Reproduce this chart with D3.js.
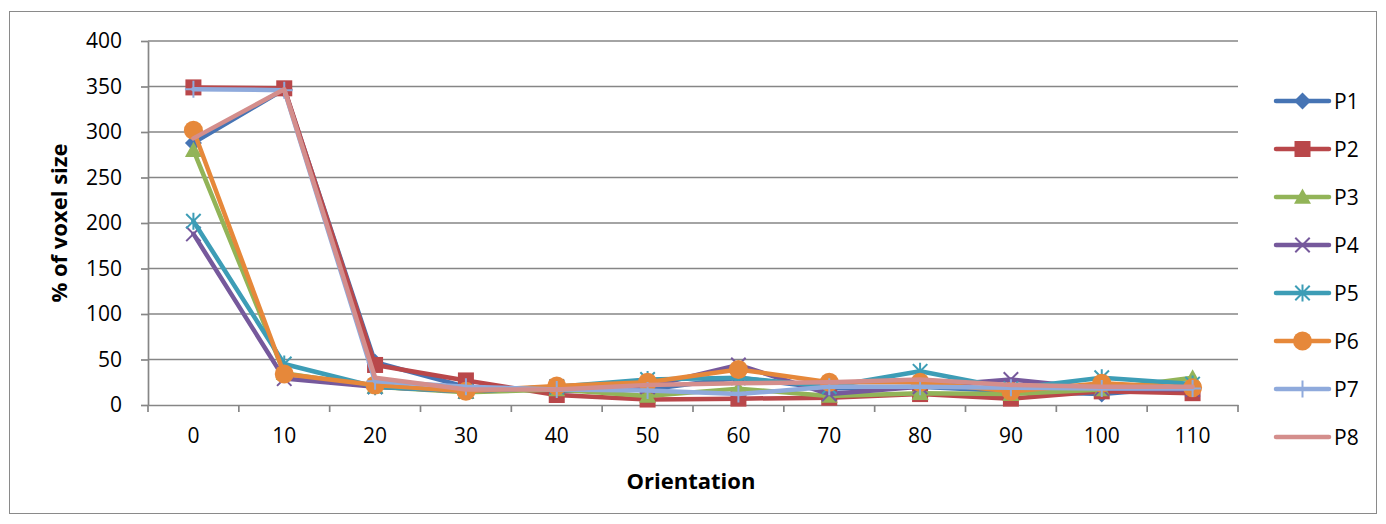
<!DOCTYPE html>
<html>
<head>
<meta charset="utf-8">
<script src="https://cdn.jsdelivr.net/npm/d3@7"></script>
<style>
  html, body { margin: 0; padding: 0; background: #fff; }
  svg { display: block; font-family: "Open Sans", Lato, sans-serif; }
</style>
</head>
<body>
<svg id="chart" width="1386" height="524"></svg>
<script>
// Orientation categories and y-axis ticks
const categories = [0, 10, 20, 30, 40, 50, 60, 70, 80, 90, 100, 110];
const yTicks = [0, 50, 100, 150, 200, 250, 300, 350, 400];

// Series values (% of voxel size)
const P1 = [288, 347, 47, 20, 15, 17, 30, 18, 20, 15, 12, 20];
const P2 = [349, 348, 44, 27, 11, 6, 7, 8, 12, 7, 15, 13];
const P3 = [280, 35, 20, 14, 17, 10, 18, 10, 13, 12, 17, 30];
const P4 = [188, 29, 20, 15, 20, 20, 44, 12, 20, 28, 18, 17];
const P5 = [202, 45, 20, 15, 20, 28, 30, 20, 37, 18, 30, 23];
const P6 = [302, 34, 22, 15, 21, 25, 39, 25, 25, 15, 24, 19];
const P7 = [347, 346, 26, 20, 17, 16, 12, 20, 20, 19, 18, 18];
const P8 = [293, 347, 30, 17, 17, 22, 24, 25, 28, 22, 20, 20];

const seriesNames = ["P1", "P2", "P3", "P4", "P5", "P6", "P7", "P8"];
const seriesValues = [P1, P2, P3, P4, P5, P6, P7, P8];
const seriesColors = ["#4674B4", "#B9474A", "#92B458", "#76599C", "#3D9DB6", "#E6883A", "#8FAADC", "#D48E8C"];
const seriesMarkers = ["diamond", "square", "triangle", "x", "star", "circle", "plus", "none"];

const FONT = "'Open Sans', Lato, sans-serif";
const svg = d3.select("#chart");

// Chart area frame
svg.append("rect")
  .attr("x", 9.5).attr("y", 11.5)
  .attr("width", 1367).attr("height", 502)
  .attr("fill", "#fff").attr("stroke", "#8a8a8a").attr("stroke-width", 1);

const plot = { left: 148, right: 1238, top: 41, bottom: 405 };

const x = d3.scaleBand().domain(categories).range([plot.left, plot.right]).padding(0);
const y = d3.scaleLinear().domain([0, 400]).range([plot.bottom, plot.top]);
const cx = d => x(d) + x.bandwidth() / 2;

const axisColor = "#868686";

// Horizontal gridlines
svg.append("g")
  .selectAll("line")
  .data(yTicks.filter(t => t > 0))
  .join("line")
  .attr("x1", plot.left).attr("x2", plot.right)
  .attr("y1", d => y(d)).attr("y2", d => y(d))
  .attr("stroke", axisColor).attr("stroke-width", 1.7);

// Y axis
const yAxis = svg.append("g")
  .attr("transform", `translate(${plot.left},0)`)
  .call(d3.axisLeft(y).tickValues(yTicks).tickSize(7).tickSizeOuter(0).tickPadding(19));
yAxis.select(".domain").attr("stroke", axisColor).attr("stroke-width", 1.7);
yAxis.selectAll(".tick line").attr("stroke", axisColor).attr("stroke-width", 1.7);
yAxis.selectAll(".tick text")
  .attr("fill", "#000").attr("font-size", 21)
  .attr("font-family", FONT);

// X axis
const xAxis = svg.append("g")
  .attr("transform", `translate(0,${plot.bottom})`)
  .call(d3.axisBottom(x).tickSize(0).tickSizeOuter(0).tickPadding(23));
xAxis.select(".domain").attr("stroke", axisColor).attr("stroke-width", 1.7);
xAxis.selectAll(".tick text")
  .attr("fill", "#000").attr("font-size", 21)
  .attr("font-family", FONT);

// Tick marks at category boundaries
const boundaries = categories.map(c => x(c)).concat([plot.right]);
svg.append("g")
  .selectAll("line")
  .data(boundaries)
  .join("line")
  .attr("x1", d => d).attr("x2", d => d)
  .attr("y1", plot.bottom).attr("y2", plot.bottom + 7)
  .attr("stroke", axisColor).attr("stroke-width", 1.7);

// Axis titles
svg.append("text")
  .attr("transform", `translate(67,${(plot.top + plot.bottom) / 2}) rotate(-90)`)
  .attr("text-anchor", "middle")
  .attr("font-size", 22).attr("font-weight", "bold")
  .attr("font-family", FONT)
  .text("% of voxel size");

svg.append("text")
  .attr("x", (plot.left + plot.right) / 2 - 2).attr("y", 489)
  .attr("text-anchor", "middle")
  .attr("font-size", 22).attr("font-weight", "bold")
  .attr("font-family", FONT)
  .text("Orientation");

// Marker drawing
function drawMarker(g, type, color, px, py, s) {
  const h = s / 2;
  if (type === "diamond") {
    g.append("path")
      .attr("d", `M${px},${py - h}L${px + h},${py}L${px},${py + h}L${px - h},${py}Z`)
      .attr("fill", color);
  } else if (type === "square") {
    g.append("rect")
      .attr("x", px - h + 0.5).attr("y", py - h + 0.5)
      .attr("width", s - 1).attr("height", s - 1)
      .attr("fill", color);
  } else if (type === "triangle") {
    g.append("path")
      .attr("d", `M${px},${py - h}L${px + h},${py + h * 0.8}L${px - h},${py + h * 0.8}Z`)
      .attr("fill", color);
  } else if (type === "circle") {
    g.append("circle").attr("cx", px).attr("cy", py).attr("r", h + 1)
      .attr("fill", color);
  } else if (type === "x") {
    const k = h * 0.85;
    g.append("path")
      .attr("d", `M${px - k},${py - k}L${px + k},${py + k}M${px - k},${py + k}L${px + k},${py - k}`)
      .attr("stroke", color).attr("stroke-width", 2);
  } else if (type === "star") {
    const k = h * 0.85;
    g.append("path")
      .attr("d", `M${px - k},${py - k}L${px + k},${py + k}M${px - k},${py + k}L${px + k},${py - k}M${px},${py - h}L${px},${py + h}`)
      .attr("stroke", color).attr("stroke-width", 2);
  } else if (type === "plus") {
    g.append("path")
      .attr("d", `M${px},${py - h}L${px},${py + h}M${px - h},${py}L${px + h},${py}`)
      .attr("stroke", color).attr("stroke-width", 2);
  }
}

const line = d3.line()
  .x((d, i) => cx(categories[i]))
  .y(d => y(d));

const series = svg.append("g");
seriesValues.forEach((vals, si) => {
  const g = series.append("g");
  g.append("path")
    .attr("d", line(vals))
    .attr("fill", "none")
    .attr("stroke", seriesColors[si])
    .attr("stroke-width", 4.5)
    .attr("stroke-linejoin", "round")
    .attr("stroke-linecap", "round");
  vals.forEach((v, i) => drawMarker(g, seriesMarkers[si], seriesColors[si], cx(categories[i]), y(v), 17));
});

// Legend
const legend = svg.append("g");
seriesNames.forEach((name, si) => {
  const ly = 101 + si * 48;
  const g = legend.append("g");
  g.append("line")
    .attr("x1", 1276).attr("x2", 1329)
    .attr("y1", ly).attr("y2", ly)
    .attr("stroke", seriesColors[si]).attr("stroke-width", 4.5)
    .attr("stroke-linecap", "round");
  drawMarker(g, seriesMarkers[si], seriesColors[si], 1302.5, ly, 17);
  g.append("text")
    .attr("x", 1334).attr("y", ly)
    .attr("dy", "0.36em")
    .attr("font-size", 21)
    .attr("font-family", FONT)
    .text(name);
});
</script>
</body>
</html>
